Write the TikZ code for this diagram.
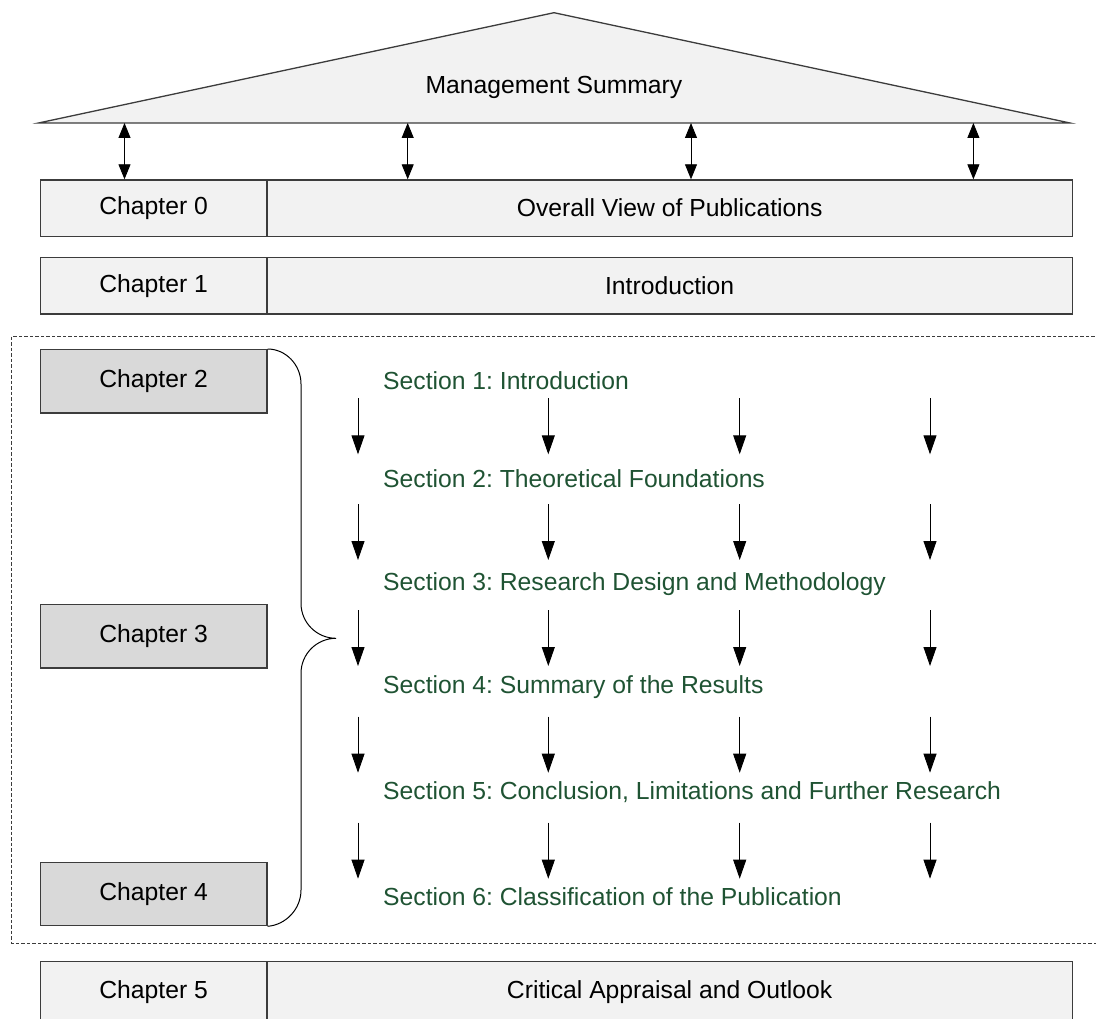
\documentclass[tikz,border=0pt]{standalone}
\usepackage{fontspec}
\setmainfont{Liberation Sans}
\usetikzlibrary{arrows.meta}
\definecolor{secgreen}{RGB}{31,83,51}
\definecolor{lightbox}{RGB}{242,242,242}
\definecolor{darkbox}{RGB}{217,217,217}
\definecolor{edgecol}{RGB}{60,60,60}
\frenchspacing
\begin{document}
\begin{tikzpicture}[x=1pt,y=-1pt,
  txt/.style={font=\fontsize{24.7}{29}\selectfont},
  rowbox/.style={draw=edgecol, line width=1.3pt, fill=lightbox, inner sep=0pt, txt, anchor=north west},
  chapbox/.style={draw=edgecol, line width=1.3pt, fill=darkbox, minimum width=226.6pt, minimum height=63.3pt, inner sep=0pt, txt, anchor=north west},
  sectxt/.style={txt, text=secgreen, anchor=base west, inner sep=0pt},
  arr/.style={line width=0.9pt, -{Triangle[length=19pt,width=13pt]}},
  dbl/.style={line width=0.9pt, {Triangle[length=15pt,width=12pt]}-{Triangle[length=15pt,width=12pt]}},
  framedash/.style={draw=edgecol, line width=0.9pt, dash pattern=on 3.5pt off 2pt},
  bracestyle/.style={draw=black, line width=1pt}
]
\useasboundingbox (0,0) rectangle (1096,1019);
\clip (0,0) rectangle (1096,1019);

% roof
\draw[draw=edgecol, line width=1.3pt, fill=lightbox] (38.5,123) -- (554,12.7) -- (1070,123) -- cycle;
\node[txt] (ms) at (554,87) {Management Summary};

% chapter 0 and 1 rows
\node[rowbox, minimum width=226.6pt, minimum height=56.4pt] (c0) at (39.7,179.3) {Chapter 0};
\node[rowbox, minimum width=805.4pt, minimum height=56.4pt] (t0) at (266.3,179.3) {Overall View of Publications};
\node[rowbox, minimum width=226.6pt, minimum height=56.4pt] (c1) at (39.7,257) {Chapter 1};
\node[rowbox, minimum width=805.4pt, minimum height=56.4pt] (t1) at (266.3,257) {Introduction};

% double arrows between roof and chapter 0
\coordinate (r1) at (124.5,123);
\coordinate (r2) at (407.7,123);
\coordinate (r3) at (691,123);
\coordinate (r4) at (973.4,123);
\draw[dbl] (r1) -- (r1 |- c0.north);
\draw[dbl] (r2) -- (r2 |- t0.north);
\draw[dbl] (r3) -- (r3 |- t0.north);
\draw[dbl] (r4) -- (r4 |- t0.north);

% dashed frame
\draw[framedash] (1100,336) -- (11.7,336) -- (11.7,943) -- (1100,943);

% chapters 2-4
\node[chapbox] (c2) at (39.7,349) {Chapter 2};
\node[chapbox] (c3) at (39.7,603.9) {Chapter 3};
\node[chapbox] (c4) at (39.7,861.7) {Chapter 4};

% brace
\coordinate (tip) at (336,638.3);
\draw[bracestyle] (c2.north east) .. controls (285.5,349) and (301,364.5) .. (301,384)
  -- (301,603.3) .. controls (301,622.6) and (316.7,638.3) .. (tip)
  .. controls (316.7,638.3) and (301,654) .. (301,673.3)
  -- (301,890) .. controls (301,909.4) and (285.5,925) .. (c4.south east);

% sections
\node[sectxt] (s1) at (383,389.3) {Section 1: Introduction};
\node[sectxt] (s2) at (383,487.1) {Section 2: Theoretical Foundations};
\node[sectxt] (s3) at (383,590.5) {Section 3: Research Design and Methodology};
\node[sectxt] (s4) at (383,693.8) {Section 4: Summary of the Results};
\node[sectxt] (s5) at (383,799.5) {Section 5: Conclusion, Limitations and Further Research};
\node[sectxt] (s6) at (383,905.5) {Section 6: Classification of the Publication};

% down arrows
\foreach \ys [count=\i] in {398.3,504,610,716.7,822.7}{
  \foreach \xs [count=\j] in {358,548.3,739.7,930}{
    \coordinate (a\i\j) at (\xs,\ys);
    \coordinate (b\i\j) at (\xs,\ys+56);
    \draw[arr] (a\i\j) -- (b\i\j);
  }
}

% chapter 5 row
\node[rowbox, minimum width=226.6pt, minimum height=61pt] (c5) at (39.7,961) {Chapter 5};
\node[rowbox, minimum width=805.4pt, minimum height=61pt] (t5) at (266.3,961) {Critical Appraisal and Outlook};
\end{tikzpicture}
\end{document}
